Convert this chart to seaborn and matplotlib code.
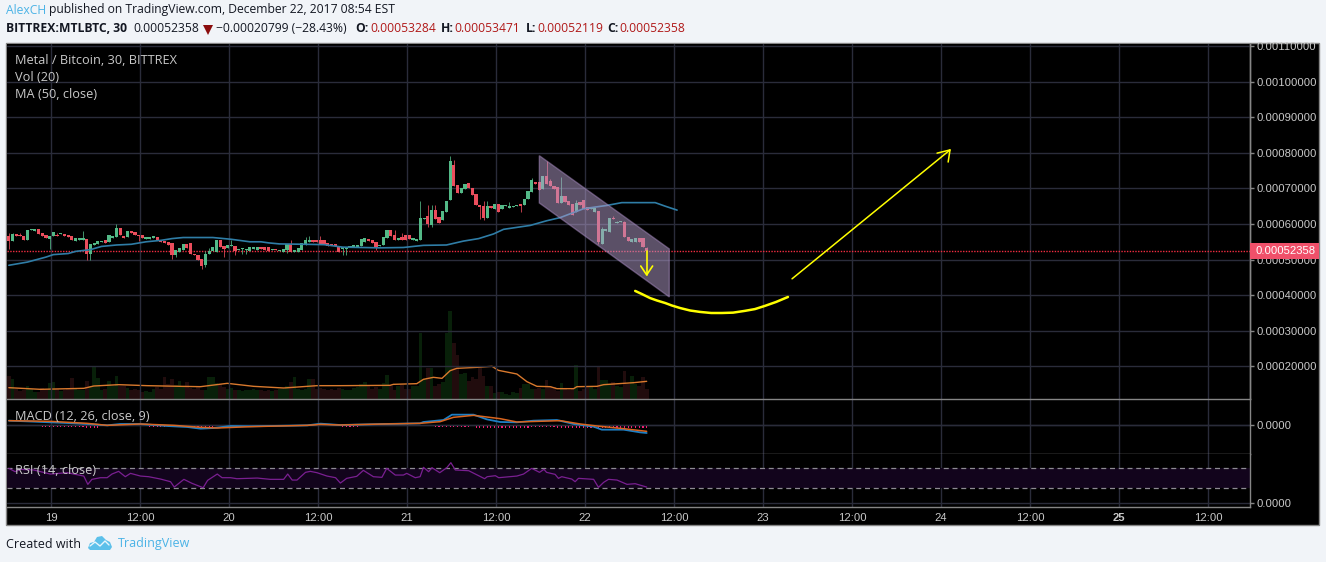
import matplotlib
matplotlib.use("Agg")
import matplotlib.pyplot as plt
from matplotlib.patches import Rectangle, Polygon
from matplotlib.transforms import blended_transform_factory
import seaborn as sns

# prices are in units of 0.00001 BTC; x is the 30-minute candle number
opens = [56.6,55.2,57.3,57.0,56.5,55.4,58.2,58.0,58.5,57.6,57.0,55.9,56.5,56.8,57.1,57.3,56.9,56.5,55.2,55.6,
         55.6,55.9,51.5,54.0,54.5,55.0,55.4,55.0,56.2,56.4,58.8,56.6,56.4,58.0,57.8,57.0,56.8,55.8,55.8,56.1,
         56.3,55.6,55.1,54.9,54.6,51.3,52.0,52.8,54.3,54.8,51.7,51.2,50.3,48.4,51.5,52.3,52.1,55.4,53.7,53.3,
         53.7,53.9,52.6,52.9,52.8,52.4,53.1,52.6,53.4,53.4,53.4,52.7,52.9,52.4,52.1,52.6,54.3,52.1,52.1,52.8,
         54.0,55.0,55.4,55.4,55.4,55.4,54.6,54.5,54.3,53.9,
         53.1,53.1,53.4,53.5,53.5,53.7,54.9,55.7,55.6,54.9,53.7,54.0,56.1,58.2,56.8,55.6,56.4,56.8,56.8,55.4,
         55.1,55.4,61.4,62.2,59.6,63.8,62.0,61.0,63.4,66.6,76.7,71.0,68.8,69.9,71.5,70.1,68.5,65.3,65.0,61.8,
         65.0,64.1,65.5,64.1,65.0,64.5,64.7,65.0,65.5,65.2,66.9,69.0,71.9,71.8,69.7,73.5,72.2,70.7,70.4,66.0,
         68.0,66.4,65.7,63.4,66.2,66.6,64.8,64.3,63.4,63.6,54.5,58.0,57.8,61.8,60.3,60.5,60.7,56.4,55.0,55.0,
         56.1,56.1,53.28]
closes = [55.2,57.1,56.5,56.5,55.4,58.4,58.5,58.5,57.3,56.7,56.1,56.7,57.7,56.5,57.4,56.6,56.4,55.4,56.0,56.0,
          56.2,51.5,54.3,54.7,55.2,55.3,54.7,56.8,56.6,58.8,56.8,56.2,58.0,57.5,56.8,56.5,56.2,56.3,56.4,56.5,
          55.4,55.0,54.7,54.0,51.2,52.8,53.2,54.3,53.2,51.7,51.2,49.8,48.2,51.7,52.3,53.4,55.4,53.5,53.1,54.0,
          54.1,52.4,53.1,53.2,53.0,53.4,53.5,53.4,52.9,52.8,52.4,53.0,52.6,52.8,53.0,54.4,52.2,52.6,53.3,54.7,
          55.4,55.4,55.0,55.0,54.5,54.3,53.8,54.0,53.7,52.1,
          53.5,53.5,53.7,54.0,54.1,55.7,56.1,55.2,54.7,53.4,54.0,56.4,58.2,56.6,55.4,56.2,55.6,55.6,55.7,56.1,
          55.8,61.8,61.8,59.9,63.8,61.5,60.3,63.6,66.5,77.6,70.8,68.8,70.2,71.3,70.2,68.2,65.2,64.8,61.8,65.0,
          64.5,65.5,63.5,65.2,65.2,65.0,65.1,65.4,65.0,67.1,69.3,72.4,71.3,69.6,73.5,71.3,70.7,69.7,66.0,68.0,
          66.2,65.4,62.6,66.0,65.2,64.3,64.0,64.8,64.5,55.0,58.5,58.7,61.8,61.4,60.7,60.8,56.4,55.2,55.9,56.1,
          55.0,53.4,52.358]
wick_highs = {0:57.6,1:57.6,3:57.6,13:57.6,20:58.1,29:59.9,53:52.5,54:53.2,60:55.6,76:55.6,80:56.4,81:56.5,
              84:56.5,104:58.2,106:57.5,111:66.4,113:65.2,114:65.2,115:65.2,119:79.0,120:77.9,128:66.5,129:66.5,
              135:66.1,141:72.9,145:77.7,149:73.2,146:72.6,153:66.6,160:59.2,163:62.3,172:53.6}
wick_lows = {0:53.1,11:53.1,21:50.0,22:50.0,35:55.2,44:50.3,45:50.6,52:47.3,53:47.9,58:50.6,61:51.2,63:51.5,
             64:51.7,75:51.9,90:51.2,91:51.2,99:52.6,113:59.2,114:59.2,127:61.5,128:61.2,138:63.4,159:54.4,172:52.1}

ma_x = [0,5,10,12,16,18,22,25,29,33,37,41,44,47,55,60,65,68,70,73,80,85,90,100,106.4,111.8,118,122.6,126.7,
        130.7,133.4,140.6,145,148.7,155,161.2,165.3,174.3,177,180.2]
ma_y = [48.4,49.3,50.7,51.4,51.7,52.3,52.8,53.7,54.1,54.3,55.0,55.4,55.9,56.2,56.2,55.7,55.0,55.0,54.7,54.4,
        54.3,54.2,53.5,53.3,53.4,54.0,54.1,55.2,55.9,57.2,58.5,59.6,60.9,61.8,64.3,65.2,66.0,66.0,65.0,63.9]

# volume in relative units
volumes = [68,60,30,25,28,38,30,22,20,34,30,48,50,30,25,28,30,62,30,28,26,55,40,98,62,28,30,55,38,70,
           40,40,32,28,30,26,22,24,22,30,35,30,65,45,60,42,55,35,50,32,
           30,35,28,26,65,65,48,45,36,30,32,28,26,24,28,26,30,28,26,24,
           26,24,28,30,30,38,50,65,30,28,30,60,60,30,32,30,28,30,28,32,
           30,26,28,32,35,45,52,40,30,36,30,48,73,40,26,38,42,30,30,38,
           40,198,60,93,93,40,45,50,198,263,168,132,75,78,55,65,60,92,68,40,
           40,18,20,22,15,12,20,18,32,45,45,30,30,32,30,58,40,35,25,47,
           30,28,30,103,25,30,35,35,30,95,58,58,45,50,40,36,83,45,68,45,40,65,30]
vol_ma_x = [0,8.5,20.2,22.9,29.6,37.3,46.3,51.7,58.9,66,74.1,83.1,89.4,102.8,103.7,110,111.8,114.5,116.8,119,
            120.8,126.2,130.3,132,137,139.7,142.4,146,147.8,152.3,153.2,158.6,160.4,165.8,168.5,172]
vol_ma_y = [34,29,32,39,43,40,38,37,47,38,33,40,40,41,44,46,59,65,62,85,92,95,98,86,75,52,38,37,31,31,37,38,43,47,49,53]

# MACD in relative units
macd_x = [0,7,11.2,15.7,21.1,26.5,30.1,35.5,42.7,48.1,51.7,55.3,59.8,65.2,80.5,84.1,89.3,101,110.9,111.8,117.2,
          119.5,125.3,128.9,132.5,137,141.5,147.8,152.3,157.7,159.9,165.8,170.2,172]
macd_y = [13,10,8,6,3,-1,3,3,-3,-6,-11,-9,-3,-4,-1,4,0,3,5,9,15,31,31,17,9,8,13,15,3,-5,-14,-14,-22,-24]
signal_x = [0,11.2,21.1,26.5,35.5,44.5,51.7,56.2,65.2,80.5,84.1,89.3,101,110.9,116.3,119.9,125.3,132.5,137,148.7,
            154.1,158.6,165.8,172]
signal_y = [13,11,5,-1,3,-1,-7,-9,-5,-1,2,0,3,5,10,23,29,19,9,13,3,-3,-11,-19]
histogram = [0,0,0,0,0,0,0,0,0,-4,-4,-4,-4,-4,-4,-4,-4,-4,-4,-4,-4,-7,-7,-7,-7,0,0,0,0,0,
             0,0,0,0,0,0,0,0,-4,-4,-4,-4,-4,-4,-4,-4,-4,-4,-4,-4,-4,-4,-4,-4,-4,-4,0,0,0,0,
             0,0,0,0,0,0,0,0,0,0,0,0,0,0,0,0,0,0,0,0,0,0,0,0,0,0,0,0,0,0,
             -3,-3,-3,-3,-3,0,0,0,0,0,0,0,0,0,0,0,0,0,0,0,
             -2,-2,-2,-2,-2,-3,-3,-3,-3,-3,-3,-3,-3,-3,-3,-2,-7,-7,-7,-7,
             -7,-7,-7,-7,-7,-7,-7,-7,-7,-7,-7,-3,-3,-3,-3,-3,-3,-3,-7,-7,
             -7,-7,-7,-7,-7,-7,-7,-7,-7,-7,-7,-7,-7,-7,-7,-7,-7,-7,-7,-7,-7,-7,-7]

rsi_x = [0,1.7,3.1,6.7,11.2,15.7,20.2,21.3,22.4,24.7,26.5,27.8,29.6,31.4,32.8,35.5,37.7,40.9,43.6,44.6,47.2,49.4,
         52.4,53.6,56.2,57.5,59.8,61.5,67,70.5,74.1,75.2,76.4,77.7,80,81.3,83.1,85.8,88.1,89.4,91.1,93.8,95.6,98.3,
         100.6,101.9,104.2,106.4,107.3,109.6,110.9,111.8,113.2,114.1,116.2,118.1,119.2,120.4,124,128.3,129,131.2,
         132.1,137,138.8,141,143.1,144.3,145,147.3,148.2,149.1,151.8,152.7,153.6,157.7,159,160.4,161.7,164,166.7,
         168.9,172]
rsi_y = [68.7,62,66.7,65.4,57.3,60,53.3,36.7,46.7,50,50,57.3,62.7,52,58.7,53.3,52,47.3,42,31.3,46.7,38.7,
         30,44.7,57.3,50,50,48,49.3,46.7,46.7,57.3,45.3,45.3,60.7,62.7,60,53.3,50,39.3,48.7,52.7,64.7,52,
         50.7,68.7,55.3,55.3,58.7,50,52,70.7,62,70,60,70,80,65.4,64,48,52,54,
         50,53.3,57.3,68.7,60.7,66.7,60.7,56.7,48.7,52,47.3,42,48.7,46.7,30.7,40.7,46.7,45.3,36.7,
         38,31.3]

channel_x = [143.05,178.1,178.1,143.05]
channel_y = [79.2,53.0,39.5,65.9]
drop_x = [172,172]
drop_y = [52.4,45.7]
drop_head_x = [170.4,172,173.6]
drop_head_y = [48.2,45.7,48.2]
curve_x = [168.9,170.75,172.9,174.8,177,178.8,181,183.7,186.4,189.4,192.3,195.3,198.5,201.2,203.9,206.9,210.1]
curve_y = [41.2,40.3,39.2,38.5,37.8,37.1,36.4,35.7,35.3,35.0,35.0,35.1,35.6,36.1,37.0,38.1,39.5]
rise_x = [211.2,253.8]
rise_y = [44.6,80.8]
rise_head_x = [250.3,253.8,253.3]
rise_head_y = [79.9,80.8,77.4]

price_ticks = [20,30,40,50,60,70,80,90,100,110]
time_ticks = [11.37,35.37,59.37,83.37,107.37,131.37,155.37,179.37,203.37,227.37,251.37,275.37,299.37,323.37]
time_labels = ["19","12:00","20","12:00","21","12:00","22","12:00","23","12:00","24","12:00","25","12:00"]
last_price = 52.358

assert len(opens) == len(closes) == len(volumes) == len(histogram) == 173
assert len(ma_x) == len(ma_y) and len(vol_ma_x) == len(vol_ma_y) and len(macd_x) == len(macd_y)
assert len(signal_x) == len(signal_y) and len(rsi_x) == len(rsi_y) and len(curve_x) == len(curve_y)

W, H = 1326, 562
PAGE = "#f1f4f8"; GRID = "#2a2c3a"; EDGE = "#868686"; TXT = "#c9c9c9"
GREEN = "#53b987"; RED = "#eb4d5c"; BLUE = "#4bb3e6"
sns.set_theme(style="dark", rc={"axes.facecolor": "black", "figure.facecolor": PAGE, "axes.edgecolor": EDGE,
                                "grid.color": GRID, "grid.linewidth": 1.0})
plt.rcParams["font.family"] = ["Open Sans", "DejaVu Sans"]
AX = ["Liberation Sans", "DejaVu Sans"]

fig = plt.figure(figsize=(W / 100, H / 100), dpi=100, facecolor=PAGE)


def axes_px(x0, y0, x1, y1, **kw):
    return fig.add_axes([x0 / W, 1 - y1 / H, (x1 - x0) / W, (y1 - y0) / H], **kw)


fig.add_artist(Rectangle((6 / W, 1 - 525 / H), 1313 / W, 482 / H, transform=fig.transFigure,
                         facecolor="black", edgecolor=EDGE, linewidth=1.0, zorder=-5))

ax_vol = axes_px(7, 44, 1250, 399)
ax = axes_px(7, 44, 1250, 399, sharex=ax_vol)
ax_macd = axes_px(7, 399, 1250, 454, sharex=ax_vol)
ax_rsi = axes_px(7, 454, 1250, 507, sharex=ax_vol)
ax.patch.set_visible(False)
ax_vol.set_zorder(1); ax.set_zorder(2); ax_macd.set_zorder(1); ax_rsi.set_zorder(1)

idx = list(range(len(closes)))
up = [c >= o for o, c in zip(opens, closes)]

# volume
ax_vol.bar(idx, volumes, width=1.0, color=["#082009" if u else "#210c0d" for u in up], linewidth=0)
sns.lineplot(x=vol_ma_x, y=vol_ma_y, ax=ax_vol, color="#d9792d", linewidth=1.0, estimator=None, sort=False)
ax_vol.set_ylim(0, 1065)
ax_vol.set_yticks([])

# candles
for i, o, c, u in zip(idx, opens, closes, up):
    col = GREEN if u else RED
    hi = wick_highs.get(i, max(o, c))
    lo = wick_lows.get(i, min(o, c))
    ax.vlines(i, lo, hi, color=col, linewidth=0.7, alpha=0.8, zorder=3)
    ax.bar(i, max(abs(c - o), 0.3), bottom=min(o, c), width=0.86, color=col, linewidth=0, zorder=3)
sns.lineplot(x=ma_x, y=ma_y, ax=ax, color="#2f7da6", linewidth=1.2, estimator=None, sort=False, zorder=4)
ax.axhline(last_price, color="#f02c40", linestyle=(0, (1, 1)), linewidth=1.0, zorder=2)

# drawings
ax.add_patch(Polygon(list(zip(channel_x, channel_y)), closed=True, facecolor="#b7a0cf", edgecolor="#a88bc2",
                     alpha=0.5, linewidth=1, zorder=5))
for xs, ys, lw in [(drop_x, drop_y, 1.2), (drop_head_x, drop_head_y, 1.2), (curve_x, curve_y, 1.8),
                   (rise_x, rise_y, 1.1), (rise_head_x, rise_head_y, 1.1)]:
    sns.lineplot(x=xs, y=ys, ax=ax, color="#ffff00", linewidth=lw, estimator=None, sort=False, zorder=6)

ax.set_ylim(10.84, 110.56)
ax.set_xlim(-0.5, 334.7)
ax.set_yticks(price_ticks)
ax.set_yticklabels([f"{v * 1e-5:.8f}" for v in price_ticks], family=AX, fontsize=8.1, color=TXT)

# price flag
tr = blended_transform_factory(ax.transAxes, ax.transData)
ax.add_patch(Rectangle((1.0, last_price - 2.25), 69 / 1243, 4.5, transform=tr, facecolor="#f0506a",
                       edgecolor="none", clip_on=False, zorder=8))
ax.text(1 + 35 / 1243, last_price, f"{last_price * 1e-5:.8f}", transform=tr, ha="center", va="center",
        family=AX, fontsize=8.1, color="white", zorder=9, clip_on=False)

# MACD
ax_macd.axhline(0, color=GRID, linewidth=1)
ax_macd.bar(idx, histogram, bottom=-1.5, width=0.3, color="#f01f74", linewidth=0, zorder=3)
sns.lineplot(x=macd_x, y=macd_y, ax=ax_macd, color="#1e7fc4", linewidth=1.3, estimator=None, sort=False, zorder=4)
sns.lineplot(x=signal_x, y=signal_y, ax=ax_macd, color="#d9651f", linewidth=1.1, estimator=None, sort=False, zorder=5)
ax_macd.set_ylim(-87, 78)
ax_macd.set_yticks([0])
ax_macd.set_yticklabels(["0.0000"], family=AX, fontsize=8.1, color=TXT)

# RSI
ax_rsi.axhspan(30, 70, facecolor="#12041c", edgecolor="none", zorder=1)
for lvl in (30, 70):
    ax_rsi.axhline(lvl, color="#8d8a92", linestyle=(0, (4, 3)), linewidth=0.9, zorder=2)
sns.lineplot(x=rsi_x, y=rsi_y, ax=ax_rsi, color="#7a1f91", linewidth=0.9, estimator=None, sort=False, zorder=3)
ax_rsi.set_ylim(-8.6, 97.4)
ax_rsi.set_yticks([0])
ax_rsi.set_yticklabels(["0.0000"], family=AX, fontsize=8.1, color=TXT)
ax_rsi.set_xticks(time_ticks)
ax_rsi.set_xticklabels(time_labels, family=AX, fontsize=8.1, color=TXT)
for lab, t in zip(ax_rsi.get_xticklabels(), time_labels):
    if t == "25":
        lab.set_fontweight("bold")

for a in (ax_vol, ax, ax_macd, ax_rsi):
    a.set_xlabel(""); a.set_ylabel("")
    a.grid(True, color=GRID, linewidth=1.0)
    a.set_axisbelow(True)
    for side, sp in a.spines.items():
        sp.set_color(EDGE)
        sp.set_linewidth(1.0)
        sp.set_visible(side in ("right", "bottom"))
    a.yaxis.tick_right()
    a.tick_params(axis="y", colors=EDGE, length=3, width=1, pad=1.5, labelcolor=TXT, right=True)
    a.tick_params(axis="x", colors=EDGE, length=0, labelbottom=False)
ax_vol.spines["bottom"].set_visible(False)
ax_rsi.tick_params(axis="x", colors=EDGE, length=3, width=1, pad=1.5, labelcolor=TXT, labelbottom=True)
ax_vol.grid(False)


def txt(x, y, s, **kw):
    kw.setdefault("fontsize", 8.75)
    kw.setdefault("color", "#131722")
    return fig.text(x / W, 1 - y / H, s, va="center", ha="left", zorder=20, **kw)


# header
txt(6, 10, "AlexCH", color=BLUE)
txt(49, 10, "published on TradingView.com, December 22, 2017 08:54 EST")
txt(6, 29, "BITTREX:MTLBTC, 30", fontweight="bold", fontsize=8.7)
txt(133, 29, "0.00052358")
fig.add_artist(Polygon([(203 / W, 1 - 25 / H), (213 / W, 1 - 25 / H), (208 / W, 1 - 35 / H)], closed=True,
                       transform=fig.transFigure, facecolor="#8b0d0d", edgecolor="none"))
txt(216, 29, "\u22120.00020799 (\u221228.43%)")
for x, s in [(355, "O:"), (441, "H:"), (526, "L:"), (607, "C:")]:
    txt(x, 29, s, fontweight="bold", fontsize=8.7)
for x, s in [(370, "0.00053284"), (454, "0.00053471"), (537, "0.00052119"), (619, "0.00052358")]:
    txt(x, 29, s, color="#b01818")

# panel legends
for y, s in [(60, "Metal / Bitcoin, 30, BITTREX"), (77, "Vol (20)"), (94, "MA (50, close)"),
             (416, "MACD (12, 26, close, 9)"), (471, "RSI (14, close)")]:
    txt(15, y, s, color=TXT, fontsize=9.2)

# footer
txt(6, 544, "Created with", fontsize=9.0)
txt(118, 544, "TradingView", fontsize=9.0, color=BLUE)
cloud = [(88, 548), (90, 543), (94, 542), (97, 537), (102, 536), (106, 540), (110, 542), (112, 547), (110, 550), (90, 550)]
fig.add_artist(Polygon([(x / W, 1 - y / H) for x, y in cloud], closed=True, transform=fig.transFigure,
                       facecolor="#5cc0ea", edgecolor="none"))
ridge = [(90, 546), (95, 542), (100, 546), (105, 541), (109, 545)]
fig.add_artist(plt.Line2D([x / W for x, _ in ridge], [1 - y / H for _, y in ridge], transform=fig.transFigure,
                          color="#e6f5fc", linewidth=1.0))

fig.savefig("out.png", dpi=100, facecolor=PAGE)
